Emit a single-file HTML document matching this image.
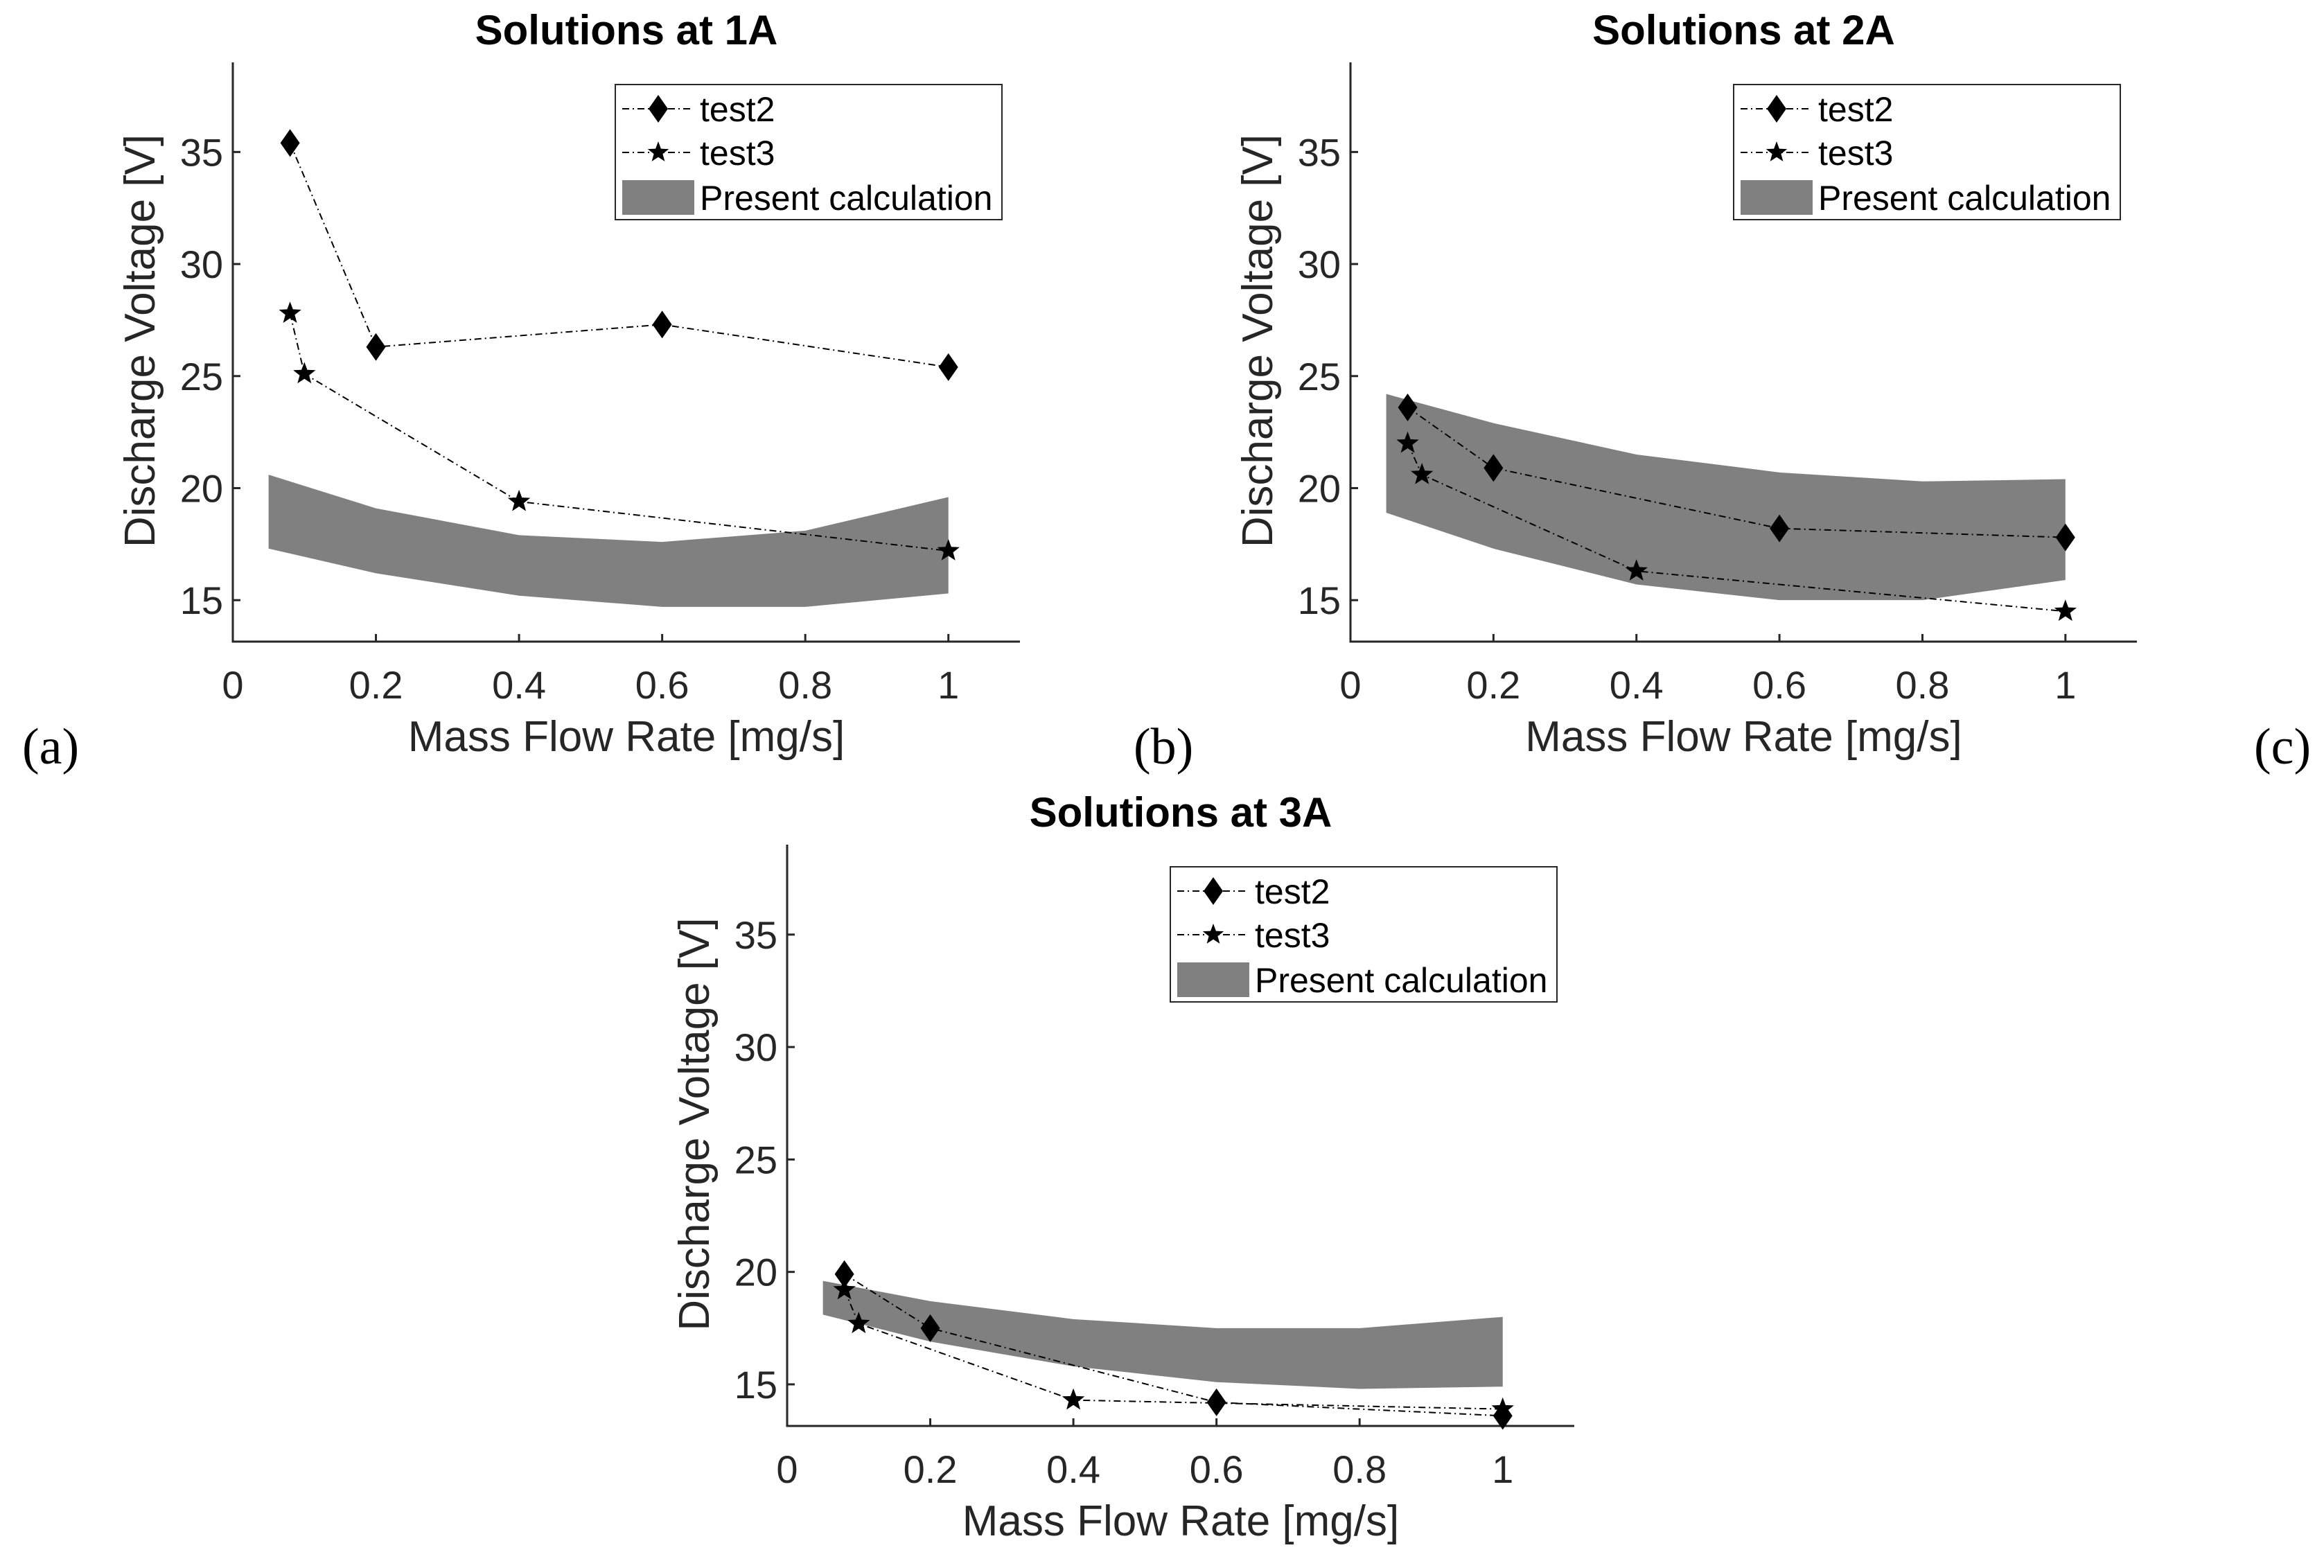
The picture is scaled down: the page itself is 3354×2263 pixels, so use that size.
<!DOCTYPE html>
<html><head><meta charset="utf-8"><style>
html,body{margin:0;padding:0;background:#fff;}
svg{display:block;}
text{font-family:"Liberation Sans",sans-serif;}
</style></head><body>
<svg id="fig" width="3354" height="2263" viewBox="0 0 3354 2263" xmlns="http://www.w3.org/2000/svg">
<text x="32" y="1102" style="font-family:'Liberation Serif',serif" font-size="74">(a)</text>
<text x="1636" y="1102" style="font-family:'Liberation Serif',serif" font-size="74">(b)</text>
<text x="3253" y="1102" style="font-family:'Liberation Serif',serif" font-size="74">(c)</text>
</svg>
<script>
const titles = ["Solutions at 1A","Solutions at 2A","Solutions at 3A"];
const xTicks = [0,0.2,0.4,0.6,0.8,1];
const xTickLabels = ["0","0.2","0.4","0.6","0.8","1"];
const yTicks = [15,20,25,30,35];
const yTickLabels = ["15","20","25","30","35"];
const bandX = [0.05,0.2,0.4,0.6,0.8,1];
const test2X = [0.08,0.2,0.6,1];
const test3X = [0.08,0.1,0.4,1];
const a_test2 = [35.4,26.3,27.3,25.4];
const a_test3 = [27.8,25.1,19.4,17.2];
const a_upper = [20.6,19.1,17.9,17.6,18.1,19.6];
const a_lower = [17.3,16.2,15.2,14.7,14.7,15.3];
const b_test2 = [23.6,20.9,18.2,17.8];
const b_test3 = [22.0,20.6,16.3,14.5];
const b_upper = [24.2,22.9,21.5,20.7,20.3,20.4];
const b_lower = [18.9,17.3,15.7,15.0,15.0,15.9];
const c_test2 = [19.9,17.5,14.2,13.6];
const c_test3 = [19.2,17.7,14.3,13.9];
const c_upper = [19.6,18.7,17.9,17.5,17.5,18.0];
const c_lower = [18.1,16.9,15.8,15.1,14.8,14.9];

const NS="http://www.w3.org/2000/svg";
const svg=document.getElementById('fig');
function mk(tag,attrs,parent){const e=document.createElementNS(NS,tag);for(const k in attrs)e.setAttribute(k,attrs[k]);(parent||svg).appendChild(e);return e;}

const panels=[
 {key:'a',L:336,R:1472,T:90,B:926,t2:a_test2,t3:a_test3,up:a_upper,lo:a_lower,leg:[888,122]},
 {key:'b',L:1949,R:3084,T:90,B:926,t2:b_test2,t3:b_test3,up:b_upper,lo:b_lower,leg:[2502,122]},
 {key:'c',L:1136,R:2272,T:1219,B:2058,t2:c_test2,t3:c_test3,up:c_upper,lo:c_lower,leg:[1689,1251]}
];
const XMIN=0,XMAX=1.1,YMIN=13.15,YMAX=39.0;
function starPts(cx,cy,r){let p=[];for(let i=0;i<10;i++){const a=-Math.PI/2+i*Math.PI/5;const rr=i%2?r*0.42:r;p.push((cx+rr*Math.cos(a)).toFixed(1)+','+(cy+rr*Math.sin(a)).toFixed(1));}return p.join(' ');}
function diamond(cx,cy){return `${cx},${cy-20} ${cx+14},${cy} ${cx},${cy+20} ${cx-14},${cy}`;}

panels.forEach((p,pi)=>{
 const g=mk('g',{});
 
 
 const xs=v=>p.L+(v-XMIN)/(XMAX-XMIN)*(p.R-p.L);
 const ys=v=>p.B-(v-YMIN)/(YMAX-YMIN)*(p.B-p.T);
 let pts=bandX.map((x,i)=>xs(x)+','+ys(p.up[i]));
 for(let i=bandX.length-1;i>=0;i--)pts.push(xs(bandX[i])+','+ys(p.lo[i]));
 const band=mk('polygon',{points:pts.join(' '),fill:'#808080'},g);
 
 
 const ax=mk('path',{d:`M${p.L},${p.T}V${p.B}H${p.R}`,stroke:'#262626','stroke-width':3,fill:'none'},g);
 
 
 xTicks.forEach((t,i)=>{
  mk('line',{x1:xs(t),x2:xs(t),y1:p.B,y2:p.B-11,stroke:'#262626','stroke-width':3},g);
  const tx=mk('text',{x:xs(t),y:p.B+82,'font-size':56,'text-anchor':'middle',fill:'#262626'},g);
  tx.textContent=xTickLabels[i];
  
  
 });
 yTicks.forEach((t,i)=>{
  mk('line',{x1:p.L,x2:p.L+11,y1:ys(t),y2:ys(t),stroke:'#262626','stroke-width':3},g);
  const tx=mk('text',{x:p.L-14,y:ys(t)+20,'font-size':56,'text-anchor':'end',fill:'#262626'},g);
  tx.textContent=yTickLabels[i];
  
  
 });
 const ttl=mk('text',{x:(p.L+p.R)/2,y:p.T-26,'font-size':60,'font-weight':'bold','text-anchor':'middle',fill:'#000'},g);
 ttl.textContent=titles[pi];
 
 
 const xl=mk('text',{x:(p.L+p.R)/2,y:p.B+158,'font-size':62,'text-anchor':'middle',fill:'#262626'},g);
 xl.textContent='Mass Flow Rate [mg/s]';
 
 
 const cy=(p.T+p.B)/2-16, cx=p.L-113;
 const yl=mk('text',{x:cx,y:cy,'font-size':62,'text-anchor':'middle',fill:'#262626',transform:`rotate(-90 ${cx} ${cy})`},g);
 yl.textContent='Discharge Voltage [V]';
 
 
 [[test2X,p.t2,'test2'],[test3X,p.t3,'test3']].forEach(([X,Y,nm])=>{
  const s=mk('polyline',{points:X.map((x,i)=>xs(x)+','+ys(Y[i])).join(' '),fill:'none',stroke:'#000','stroke-width':2,'stroke-dasharray':'10 5 2 5'},g);
  
  
  X.forEach((x,i)=>{
   const m=mk('polygon',{points:nm==='test2'?diamond(xs(x),ys(Y[i])):starPts(xs(x),ys(Y[i]),17),fill:'#000'},g);
   
   
  });
 });
 const [lx,ly]=p.leg;
 const lg=mk('g',{},g);
 
 
 mk('rect',{x:lx,y:ly,width:558,height:195,fill:'#fff',stroke:'#262626','stroke-width':2},lg);
 [['test2',ly+35],['test3',ly+98]].forEach(([nm,yy])=>{
  mk('line',{x1:lx+10,x2:lx+110,y1:yy,y2:yy,stroke:'#000','stroke-width':2,'stroke-dasharray':'10 5 2 5'},lg);
  mk('polygon',{points:nm==='test2'?diamond(lx+62,yy):starPts(lx+62,yy,16),fill:'#000'},lg);
  const t=mk('text',{x:lx+122,y:yy+18,'font-size':50,fill:'#000'},lg);
  t.textContent=nm;
  
  
 });
 mk('rect',{x:lx+10,y:ly+138,width:104,height:50,fill:'#808080'},lg);
 const t=mk('text',{x:lx+122,y:ly+181,'font-size':50,fill:'#000'},lg);
 t.textContent='Present calculation';
 
 
});
</script>
</body></html>
